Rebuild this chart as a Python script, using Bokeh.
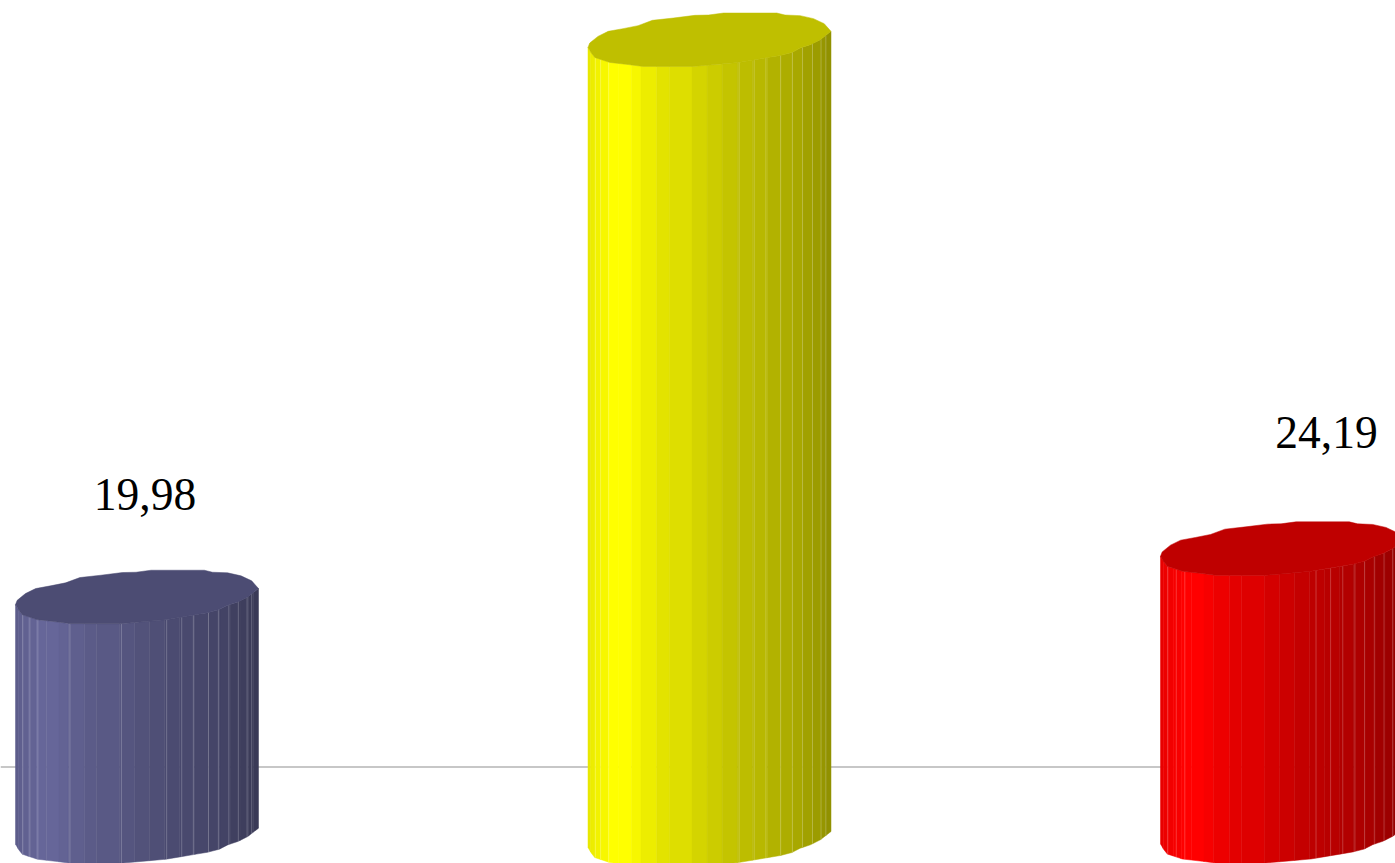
import numpy as np
from bokeh.plotting import figure
from bokeh.models import Range1d
from bokeh.core.properties import value
from bokeh.embed import file_html
from bokeh.resources import INLINE

# ---- chart data ----
categories = ["A", "B", "C"]
series_values = [19.98, 68.45, 24.19]
label_texts = ["19,98", None, "24,19"]
bar_colours = [(102, 102, 153), (255, 255, 0), (255, 0, 0)]
bar_floor = [-0.86, -1.15, -0.84]
reference_level = 5.85

# ---- layout ----
W, H = 1395, 863
px_per_value = 11.47
px_per_cat = 572.5
x0 = -136.5 / px_per_cat
y_low, y_high = -2.54, 72.53
half_w = 121.5 / px_per_cat
label_dx = [8, 0, 44.5]
label_dy = [110.5, 0, 124]

# outline of the faceted cylinder, as (fraction of width, px offset from left edge point)
front_t = [0, .014, .028, .09, .172, .227, .433, .619, .791, .839, .873, .915, .956, 1]
front_d = [0, 5.7, 10, 15, 17.3, 19, 19, 15, 8, 5, .7, -2.7, -7.7, -16]
back_t = [.972, .928, .873, .811, .777, .558, .496, .44, .351, .265, .206, .144, .083, .041, .007, 0]
back_d = [-23.7, -28.7, -31.7, -32.3, -34.3, -34.3, -32.3, -32, -29.3, -27, -21.7, -18.7, -16, -11, -4.3, 0]

edges = [0, .011, .03, .052, .085, .127, .179, .218, .283, .334, .428, .49,
         .552, .614, .676, .738, .793, .841, .883, .924, .959, .979, 1]
shade = [.91, .93, .95, .97, 1, 1, .97, .93, .89, .87, .83, .80,
         .77, .74, .72, .70, .68, .66, .63, .61, .59, .57]
lit_edges = [[.03, .059, .092, .224, .436, .622, .684, .732, .794, .835, .878, .917, .953, .972],
             [.03, .052, .085, .622, .684, .732, .793, .841, .883, .924, .959, .979],
             [.03, .065, .1, .64, .7, .75, .8, .84, .88, .92, .955]]

p = figure(width=W, height=H, output_backend="svg", toolbar_location=None,
           x_range=Range1d(x0, x0 + W / px_per_cat), y_range=Range1d(y_low, y_high),
           min_border=0, margin=(0, 0, 0, 0), background_fill_color="white",
           border_fill_color="white", outline_line_color=None)
p.axis.visible = False
p.grid.visible = False

p.line([x0, x0 + W / px_per_cat], [reference_level, reference_level],
       line_color="#b4b4b4", line_width=1.5)


def hexc(rgb, k):
    return "#%02x%02x%02x" % tuple(int(round(c * k)) for c in rgb)


for i, (v, base, rgb) in enumerate(zip(series_values, bar_floor, bar_colours)):
    def X(t):
        return i - half_w + 2 * half_w * np.asarray(t)

    def front(t):
        return np.interp(t, front_t, front_d) / px_per_value

    xs, ys, cols = [], [], []
    for a, b, k in zip(edges[:-1], edges[1:], shade):
        ts = sorted({a, b} | {t for t in front_t if a < t < b})
        ts = np.array(ts)
        xs.append(list(X(ts)) + list(X(ts[::-1])))
        ys.append(list(v - front(ts)) + list(base - front(ts[::-1])))
        cols.append(hexc(rgb, k))
    p.patches(xs, ys, fill_color=cols, line_color=cols, line_width=0.5)

    lit = np.array(lit_edges[i])
    p.segment(X(lit), v - front(lit), X(lit), base - front(lit),
              line_color="white", line_alpha=0.22, line_width=1)

    cap_t = np.array(front_t + back_t)
    cap_d = np.array(front_d + back_d) / px_per_value
    p.patch(X(cap_t), v - cap_d, fill_color=hexc(rgb, .75), line_color=hexc(rgb, .75), line_width=0.5)

    if label_texts[i]:
        p.text([i], [v], text=[label_texts[i]], x_offset=label_dx[i], y_offset=-label_dy[i],
               text_font=value("Liberation Serif"), text_font_size="45.5px", text_color="black",
               text_align="center", text_baseline="alphabetic")

open("out.html", "w").write(file_html(p, INLINE))
